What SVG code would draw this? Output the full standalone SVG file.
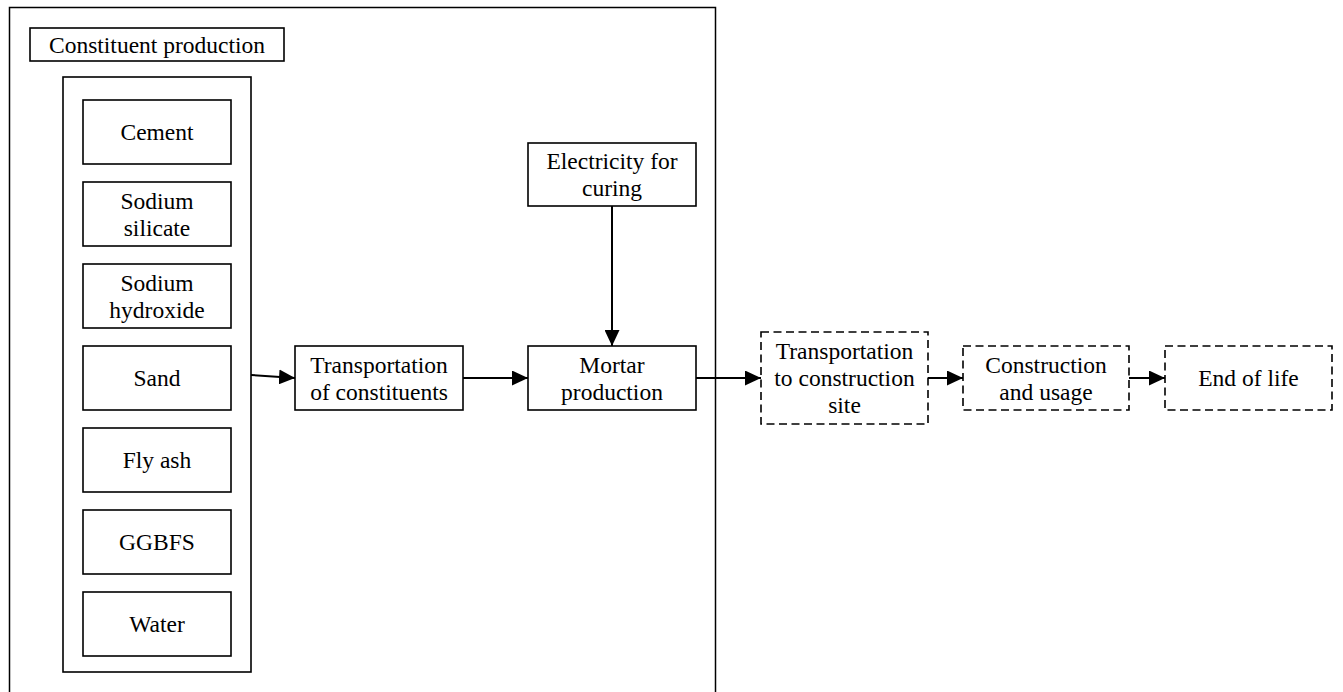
<svg xmlns="http://www.w3.org/2000/svg" width="1343" height="692" viewBox="0 0 1343 692">
<defs>
<style>
.box{fill:#fff;stroke:#000;stroke-width:1.6}
.dash{fill:#fff;stroke:#000;stroke-width:1.6;stroke-dasharray:8,4.5}
.frame{fill:none;stroke:#000;stroke-width:1.5}
.t{font-family:"Liberation Serif","Times New Roman",serif;font-size:23.5px;fill:#000;text-anchor:middle}
.c{fill:none;stroke:#000;stroke-width:2}
</style>
<marker id="ah" markerUnits="userSpaceOnUse" markerWidth="17" markerHeight="15" refX="16" refY="7.5" orient="auto">
<path d="M0,0 L16,7.5 L0,15 Z" fill="#000"/>
</marker>
</defs>
<rect width="1343" height="692" fill="#fff"/>
<g id="boundary">
<rect class="frame" x="9.5" y="7.5" width="706" height="700"/>
</g>
<g id="constituent-production">
<rect class="box" x="30" y="28" width="254" height="33"/>
<text class="t" x="157" y="53">Constituent production</text>
</g>
<g id="constituents">
<rect class="box" x="63" y="77" width="188" height="595"/>
</g>
<g id="cement">
<rect class="box" x="83" y="100" width="148" height="64"/>
<text class="t" x="157" y="140">Cement</text>
</g>
<g id="sodium-silicate">
<rect class="box" x="83" y="182" width="148" height="64"/>
<text class="t" x="157" y="208.5">Sodium</text>
<text class="t" x="157" y="235.5">silicate</text>
</g>
<g id="sodium-hydroxide">
<rect class="box" x="83" y="264" width="148" height="64"/>
<text class="t" x="157" y="290.5">Sodium</text>
<text class="t" x="157" y="317.5">hydroxide</text>
</g>
<g id="sand">
<rect class="box" x="83" y="346" width="148" height="64"/>
<text class="t" x="157" y="386">Sand</text>
</g>
<g id="fly-ash">
<rect class="box" x="83" y="428" width="148" height="64"/>
<text class="t" x="157" y="468">Fly ash</text>
</g>
<g id="ggbfs">
<rect class="box" x="83" y="510" width="148" height="64"/>
<text class="t" x="157" y="550">GGBFS</text>
</g>
<g id="water">
<rect class="box" x="83" y="592" width="148" height="64"/>
<text class="t" x="157" y="632">Water</text>
</g>
<g id="transport-constituents">
<rect class="box" x="295" y="346" width="168" height="64"/>
<text class="t" x="379" y="372.5">Transportation</text>
<text class="t" x="379" y="399.5">of constituents</text>
</g>
<g id="electricity">
<rect class="box" x="528" y="143" width="168" height="63"/>
<text class="t" x="612" y="169">Electricity for</text>
<text class="t" x="612" y="196">curing</text>
</g>
<g id="mortar-production">
<rect class="box" x="528" y="346" width="168" height="64"/>
<text class="t" x="612" y="372.5">Mortar</text>
<text class="t" x="612" y="399.5">production</text>
</g>
<g id="transport-site">
<rect class="dash" x="761" y="332" width="167" height="92"/>
<text class="t" x="844.5" y="359">Transportation</text>
<text class="t" x="844.5" y="386">to construction</text>
<text class="t" x="844.5" y="413">site</text>
</g>
<g id="construction-usage">
<rect class="dash" x="963" y="346" width="166" height="64"/>
<text class="t" x="1046" y="372.5">Construction</text>
<text class="t" x="1046" y="399.5">and usage</text>
</g>
<g id="end-of-life">
<rect class="dash" x="1165" y="346" width="167" height="64"/>
<text class="t" x="1248.5" y="386">End of life</text>
</g>
<g id="connectors">
<line class="c" x1="251" y1="375" x2="295" y2="378" marker-end="url(#ah)"/>
<line class="c" x1="463" y1="378" x2="528" y2="378" marker-end="url(#ah)"/>
<line class="c" x1="612" y1="206" x2="612" y2="346" marker-end="url(#ah)"/>
<line class="c" x1="696" y1="378" x2="761" y2="378" marker-end="url(#ah)"/>
<line class="c" x1="928" y1="378" x2="963" y2="378" marker-end="url(#ah)"/>
<line class="c" x1="1129" y1="378" x2="1165" y2="378" marker-end="url(#ah)"/>
</g>
</svg>
